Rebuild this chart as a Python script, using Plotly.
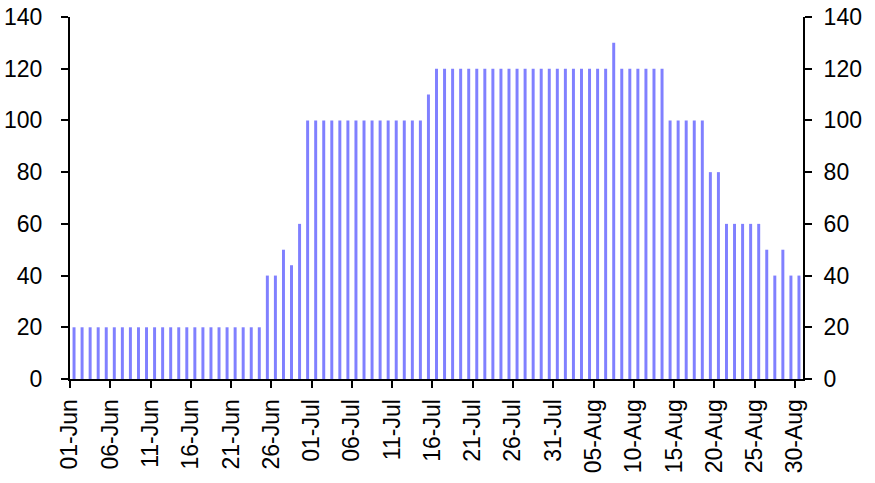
import plotly.graph_objects as go
import pandas as pd

start_date = "2023-06-01"
end_date = "2023-08-30"
dates = pd.date_range(start_date, end_date, freq="D")

values = (
    [20] * 24
    + [40, 40, 50, 44, 60]
    + [100] * 15
    + [110]
    + [120] * 22
    + [130]
    + [120] * 6
    + [100] * 5
    + [80, 80]
    + [60] * 5
    + [50, 40, 50, 40, 40]
)

tick_dates = pd.date_range(start_date, end_date, freq="5D")
tick_labels = [d.strftime("%d-%b") for d in tick_dates]

y_ticks = [0, 20, 40, 60, 80, 100, 120, 140]

bar_color = "#8080FF"
font_family = "Liberation Sans, Arial, sans-serif"
fs = 23

fig = go.Figure()
fig.add_trace(go.Bar(
    x=dates, y=values,
    xperiod=86400000, xperiodalignment="middle",
    marker=dict(color=bar_color, line=dict(width=0)),
    width=0.37 * 86400000,
    hoverinfo="x+y",
))
fig.add_trace(go.Scatter(
    x=[dates[0]], y=[0], yaxis="y2", mode="markers",
    marker=dict(opacity=0), hoverinfo="skip", showlegend=False,
))

axis_common = dict(
    showline=True, linecolor="black", linewidth=2,
    ticks="outside", ticklen=7, tickwidth=2, tickcolor="black",
    showgrid=False, zeroline=False, automargin=False,
    ticklabeloverflow="allow",
    tickfont=dict(family=font_family, size=fs, color="black"),
)

fig.update_layout(
    width=875, height=483,
    margin=dict(l=70, r=72, t=17, b=104, autoexpand=False),
    paper_bgcolor="white", plot_bgcolor="white",
    showlegend=False,
    font=dict(family=font_family, size=fs, color="black"),
    xaxis=dict(
        type="date",
        range=[pd.Timestamp(start_date), pd.Timestamp(end_date) + pd.Timedelta(days=1)],
        tickvals=list(tick_dates), ticktext=tick_labels,
        tickangle=-90,
        ticklabelstandoff=2,
        **axis_common,
    ),
    yaxis=dict(
        range=[0, 140], tickvals=y_ticks,
        ticklabelstandoff=14,
        **axis_common,
    ),
    yaxis2=dict(
        range=[0, 140], tickvals=y_ticks,
        overlaying="y", side="right",
        ticklabelstandoff=7,
        **axis_common,
    ),
)

fig.write_html(
    "out.html",
    config={"displayModeBar": False},
    post_script="document.body.style.margin='0';document.body.style.padding='0';",
)
